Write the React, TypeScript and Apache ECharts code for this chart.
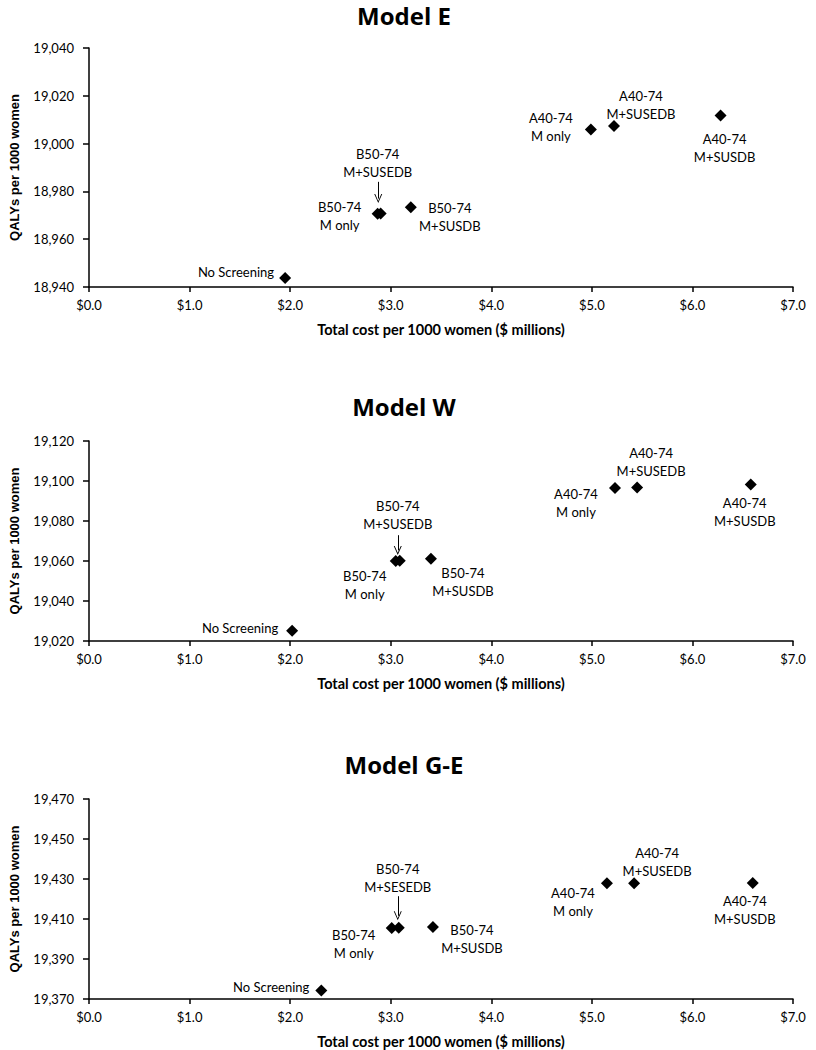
import React, { useEffect, useRef } from "react";
import * as echarts from "echarts";

// ---- data ----
const panelTitles = ["Model E", "Model W", "Model G-E"];
const xAxisName = "Total cost per 1000 women ($ millions)";
const yAxisName = "QALYs per 1000 women";

const labelsE = ["No Screening", "B50-74\nM only", "B50-74\nM+SUSEDB", "B50-74\nM+SUSDB", "A40-74\nM only", "A40-74\nM+SUSEDB", "A40-74\nM+SUSDB"];
const labelsW = ["No Screening", "B50-74\nM only", "B50-74\nM+SUSEDB", "B50-74\nM+SUSDB", "A40-74\nM only", "A40-74\nM+SUSEDB", "A40-74\nM+SUSDB"];
const labelsGE = ["No Screening", "B50-74\nM only", "B50-74\nM+SESEDB", "B50-74\nM+SUSDB", "A40-74\nM only", "A40-74\nM+SUSEDB", "A40-74\nM+SUSDB"];

const costE = [1.95, 2.87, 2.9, 3.2, 4.99, 5.22, 6.28];
const qalyE = [18943.8, 18970.6, 18970.8, 18973.4, 19005.9, 19007.4, 19011.8];
const costW = [2.02, 3.05, 3.09, 3.4, 5.23, 5.45, 6.58];
const qalyW = [19025.1, 19060.0, 19060.1, 19061.1, 19096.5, 19096.8, 19098.3];
const costGE = [2.31, 3.01, 3.08, 3.42, 5.15, 5.42, 6.6];
const qalyGE = [19374.3, 19405.5, 19405.6, 19406.0, 19427.9, 19427.9, 19428.0];

const yTicksE = [18940, 18960, 18980, 19000, 19020, 19040];
const yTicksW = [19020, 19040, 19060, 19080, 19100, 19120];
const yTicksGE = [19370, 19390, 19410, 19430, 19450, 19470];
const xTicks = [0, 1, 2, 3, 4, 5, 6, 7];

// ---- layout / style ----
const grids = [
  { left: 78, right: 23, top: 48, height: 239 },
  { left: 79, right: 23, top: 441, height: 200 },
  { left: 80, right: 23, top: 799, height: 200 },
];
const titleY = [15, 406, 764];
// label offsets in px relative to each point: [dx, dy, align]
const labelOffsets: [number, number, string][][] = [
  [[-11, -6, "right"], [-38, 2, "center"], [-3, -50, "center"], [39, 10, "center"], [-40, -2, "center"], [27, -21, "center"], [4, 33, "center"]],
  [[-14, -3, "right"], [-31, 24, "center"], [-2, -46, "center"], [32, 23, "center"], [-39, 15, "center"], [14, -25, "center"], [-6, 28, "center"]],
  [[-12, -3, "right"], [-38, 16, "center"], [-1, -50, "center"], [39, 12, "center"], [-34, 19, "center"], [23, -21, "center"], [-8, 27, "center"]],
];
// arrow pointing at the 3rd point (index 2): [dxValue, topAbove, tipAbove]
const arrowCfg = [
  [-0.024, 13.2, 6.2],
  [-0.02, 12.8, 5.2],
  [-0.01, 15.8, 6.0],
];

const chevron = "path://M0,10 L5,0 L10,10 L8.8,10 L5,2.4 L1.2,10 Z";

export default function App() {
  const ref = useRef<HTMLDivElement>(null);
  useEffect(() => {
    document.body.style.margin = "0";
    if (!ref.current) return;
    const chart = echarts.init(ref.current, undefined, { renderer: "svg" });
    const panels = [
      { cost: costE, qaly: qalyE, labels: labelsE, ticks: yTicksE },
      { cost: costW, qaly: qalyW, labels: labelsW, ticks: yTicksW },
      { cost: costGE, qaly: qalyGE, labels: labelsGE, ticks: yTicksGE },
    ];
    const axisColor = "#000";
    const labelColor = "#000";
    const option: any = {
      animation: false,
      textStyle: { fontFamily: "Lato" },
      grid: grids,
      graphic: panelTitles.map((t, i) => ({
        type: "text",
        x: 404,
        y: titleY[i],
        style: {
          text: t,
          fontFamily: "Open Sans",
          fontWeight: "bold",
          fontSize: 24,
          fill: "#000",
          align: "center",
          verticalAlign: "middle",
        },
      })),
      xAxis: panels.map((p, i) => ({
        type: "value",
        gridIndex: i,
        min: xTicks[0],
        max: xTicks[xTicks.length - 1],
        interval: 1,
        name: xAxisName,
        nameLocation: "middle",
        nameGap: 35,
        nameTextStyle: { fontFamily: "Lato", fontWeight: "bold", fontSize: 14.5, color: "#000" },
        axisLine: { onZero: false, lineStyle: { color: axisColor, width: 1.5 } },
        axisTick: { show: true, length: 5, lineStyle: { color: axisColor, width: 1.5 } },
        axisLabel: {
          margin: 11,
          fontSize: 13,
          color: labelColor,
          formatter: (v: number) => "$" + v.toFixed(1),
        },
        splitLine: { show: false },
      })),
      yAxis: panels.map((p, i) => ({
        type: "value",
        gridIndex: i,
        min: p.ticks[0],
        max: p.ticks[p.ticks.length - 1],
        name: yAxisName,
        nameLocation: "middle",
        nameRotate: 90,
        nameGap: 68,
        nameTextStyle: { fontFamily: "Liberation Sans", fontWeight: "bold", fontSize: 13, color: "#000" },
        axisLine: { show: true, lineStyle: { color: axisColor, width: 1.5 } },
        axisTick: { show: true, length: 6, customValues: p.ticks, lineStyle: { color: axisColor, width: 1.5 } },
        axisLabel: {
          margin: 15,
          fontSize: 13,
          color: labelColor,
          customValues: p.ticks,
          formatter: (v: number) => v.toLocaleString("en-US"),
        },
        splitLine: { show: false },
      })),
      series: panels.map((p, i) => {
        const a = arrowCfg[i];
        return {
          type: "scatter",
          xAxisIndex: i,
          yAxisIndex: i,
          symbol: "diamond",
          symbolSize: 12,
          itemStyle: { color: "#000", opacity: 1 },
          silent: true,
          data: p.cost.map((c, j) => ({
            value: [c, p.qaly[j]],
            label: {
              show: true,
              position: "inside",
              formatter: p.labels[j],
              offset: [labelOffsets[i][j][0], labelOffsets[i][j][1]],
              align: labelOffsets[i][j][2],
              verticalAlign: "middle",
              color: labelColor,
              fontFamily: "Lato",
              fontSize: 13,
              lineHeight: 18,
            },
          })),
          markLine: {
            silent: true,
            animation: false,
            symbol: ["none", chevron],
            symbolSize: [8, 9],
            lineStyle: { color: "#000", width: 1, type: "solid" },
            label: { show: false },
            emphasis: { disabled: true },
            data: [
              [
                { coord: [p.cost[2] + a[0], p.qaly[2] + a[1]] },
                { coord: [p.cost[2] + a[0], p.qaly[2] + a[2]] },
              ],
            ],
          },
        };
      }),
    };
    chart.setOption(option);
    return () => chart.dispose();
  }, []);
  return <div ref={ref} style={{ width: 816, height: 1050 }} />;
}
